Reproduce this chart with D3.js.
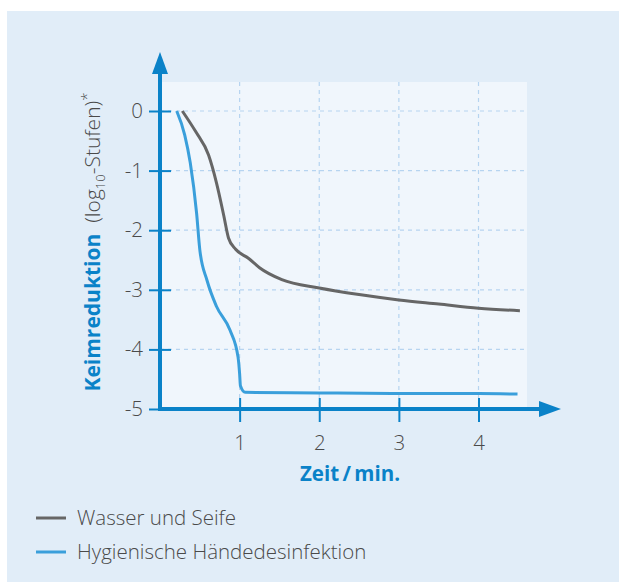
<!DOCTYPE html>
<html>
<head>
<meta charset="utf-8">
<script src="https://cdn.jsdelivr.net/npm/d3@7"></script>
<style>
    body { margin: 0; background: #ffffff; }
    svg text { font-family: "Open Sans", "Noto Sans", sans-serif; }
</style>
</head>
<body>
<svg id="svgArea" width="619" height="584"></svg>
<script>
// Keimreduktion (log10-Stufen) ueber Zeit (min)
var seifeZeit = [0.28, 0.45, 0.61, 0.71, 0.80, 0.86, 0.95, 1.11, 1.25, 1.53, 2.0, 2.5, 3.0, 3.5, 4.0, 4.52];
var seifeWert = [0, -0.35, -0.74, -1.21, -1.75, -2.13, -2.32, -2.47, -2.63, -2.83, -2.97, -3.08, -3.17, -3.24, -3.31, -3.35];

var desZeit = [0.21, 0.31, 0.38, 0.46, 0.50, 0.59, 0.71, 0.88, 0.98, 1.0, 1.01, 1.07, 2.0, 3.0, 4.0, 4.49];
var desWert = [0, -0.4, -0.87, -1.72, -2.33, -2.84, -3.28, -3.68, -4.13, -4.41, -4.61, -4.72, -4.73, -4.74, -4.74, -4.75];

var xTicks = [1, 2, 3, 4];
var yTicks = [0, -1, -2, -3, -4, -5];
var gridX = [1, 2, 3, 4];
var gridY = [0, -1, -2, -3, -4];

var legendLabels = ["Wasser und Seife", "Hygienische Händedesinfektion"];
var seriesColors = ["#666666", "#3a9fdb"];

var axisColor = "#0a82c8";
var textColor = "#4a4a4a";

var svg = d3.select("#svgArea");

var x = d3.scaleLinear().domain([0, 4]).range([160, 478.5]);
var y = d3.scaleLinear().domain([0, -5]).range([111, 409]);

var plotRight = 527;
var plotTop = 82;

// hintergrund
svg.append("rect")
    .attr("x", 7)
    .attr("y", 11)
    .attr("width", 612)
    .attr("height", 571)
    .attr("fill", "#e1edf8");

svg.append("rect")
    .attr("x", x(0))
    .attr("y", plotTop)
    .attr("width", plotRight - x(0))
    .attr("height", y(-5) - plotTop)
    .attr("fill", "#f0f6fc");

// gitter
svg.selectAll(".gx")
    .data(gridX)
    .enter().append("line")
    .attr("x1", function (d) { return x(d); })
    .attr("x2", function (d) { return x(d); })
    .attr("y1", plotTop)
    .attr("y2", y(-5))
    .attr("stroke", "#b6d4f0")
    .attr("stroke-width", 1.2)
    .attr("stroke-dasharray", "4,4");

svg.selectAll(".gy")
    .data(gridY)
    .enter().append("line")
    .attr("x1", x(0))
    .attr("x2", plotRight)
    .attr("y1", function (d) { return y(d); })
    .attr("y2", function (d) { return y(d); })
    .attr("stroke", "#b6d4f0")
    .attr("stroke-width", 1.2)
    .attr("stroke-dasharray", "4,4");

// kurven
var line = d3.line()
    .x(function (d) { return x(d[0]); })
    .y(function (d) { return y(d[1]); })
    .curve(d3.curveMonotoneX);

var series = [d3.zip(seifeZeit, seifeWert), d3.zip(desZeit, desWert)];

svg.selectAll(".kurve")
    .data(series)
    .enter().append("path")
    .attr("d", line)
    .attr("fill", "none")
    .attr("stroke", function (d, i) { return seriesColors[i]; })
    .attr("stroke-width", 3)
    .attr("stroke-linejoin", "round");

// achsen
var yAxis = svg.append("g")
    .attr("transform", "translate(" + x(0) + ",0)")
    .call(d3.axisLeft(y).tickValues(yTicks).tickSize(11).tickPadding(6));

var xAxis = svg.append("g")
    .attr("transform", "translate(0," + y(-5) + ")")
    .call(d3.axisBottom(x).tickValues(xTicks).tickSize(13).tickPadding(13).tickFormat(d3.format("d")));

[yAxis, xAxis].forEach(function (g) {
    g.select(".domain").remove();
    g.selectAll(".tick line").attr("stroke", axisColor).attr("stroke-width", 2);
    g.selectAll(".tick text")
        .attr("fill", textColor)
        .attr("font-size", 20.5)
        .attr("font-weight", 300)
        .style("font-family", "'Open Sans', sans-serif");
});
yAxis.selectAll(".tick line").attr("x1", 11);
yAxis.selectAll(".tick text").text(function (d) { return d === 0 ? "0" : "-" + Math.abs(d); });
xAxis.selectAll(".tick line").attr("y1", -11);

svg.append("line")
    .attr("x1", x(0))
    .attr("x2", x(0))
    .attr("y1", y(-5) + 2)
    .attr("y2", 72)
    .attr("stroke", axisColor)
    .attr("stroke-width", 4);

svg.append("line")
    .attr("x1", x(0) - 2)
    .attr("x2", 541)
    .attr("y1", y(-5))
    .attr("y2", y(-5))
    .attr("stroke", axisColor)
    .attr("stroke-width", 4);

svg.append("path")
    .attr("d", "M" + x(0) + ",52 L" + (x(0) + 8) + ",74 L" + (x(0) - 8) + ",74 Z")
    .attr("fill", axisColor);

svg.append("path")
    .attr("d", "M561," + y(-5) + " L539," + (y(-5) - 8) + " L539," + (y(-5) + 8) + " Z")
    .attr("fill", axisColor);

// achsentitel
svg.append("text")
    .attr("x", 350)
    .attr("y", 481)
    .attr("text-anchor", "middle")
    .attr("font-size", 20.5)
    .attr("font-weight", "bold")
    .attr("fill", axisColor)
    .text("Zeit\u2009/\u2009min.");

var yTitle = svg.append("text")
    .attr("transform", "translate(100,242) rotate(-90)")
    .attr("text-anchor", "middle")
    .attr("font-size", 21);

yTitle.append("tspan")
    .attr("font-weight", "bold")
    .attr("fill", axisColor)
    .text("Keimreduktion\u00a0 ");
yTitle.append("tspan")
    .attr("fill", textColor)
    .attr("font-weight", 300)
    .text("(log");
yTitle.append("tspan")
    .attr("fill", textColor)
    .attr("font-weight", 300)
    .attr("font-size", 13)
    .attr("dy", 5)
    .text("10");
yTitle.append("tspan")
    .attr("fill", textColor)
    .attr("font-weight", 300)
    .attr("dy", -5)
    .text("-Stufen)");
yTitle.append("tspan")
    .attr("fill", textColor)
    .attr("font-weight", 300)
    .attr("font-size", 15)
    .attr("dy", -8)
    .text("*");

// legende
var legend = svg.selectAll(".legende")
    .data(legendLabels)
    .enter().append("g")
    .attr("transform", function (d, i) { return "translate(36," + (518 + i * 34) + ")"; });

legend.append("line")
    .attr("x1", 0)
    .attr("x2", 30)
    .attr("stroke", function (d, i) { return seriesColors[i]; })
    .attr("stroke-width", 3);

legend.append("text")
    .attr("x", 41)
    .attr("dy", "0.35em")
    .attr("font-size", 20.5)
    .attr("font-weight", 300)
    .attr("fill", textColor)
    .text(function (d) { return d; });
</script>
</body>
</html>
